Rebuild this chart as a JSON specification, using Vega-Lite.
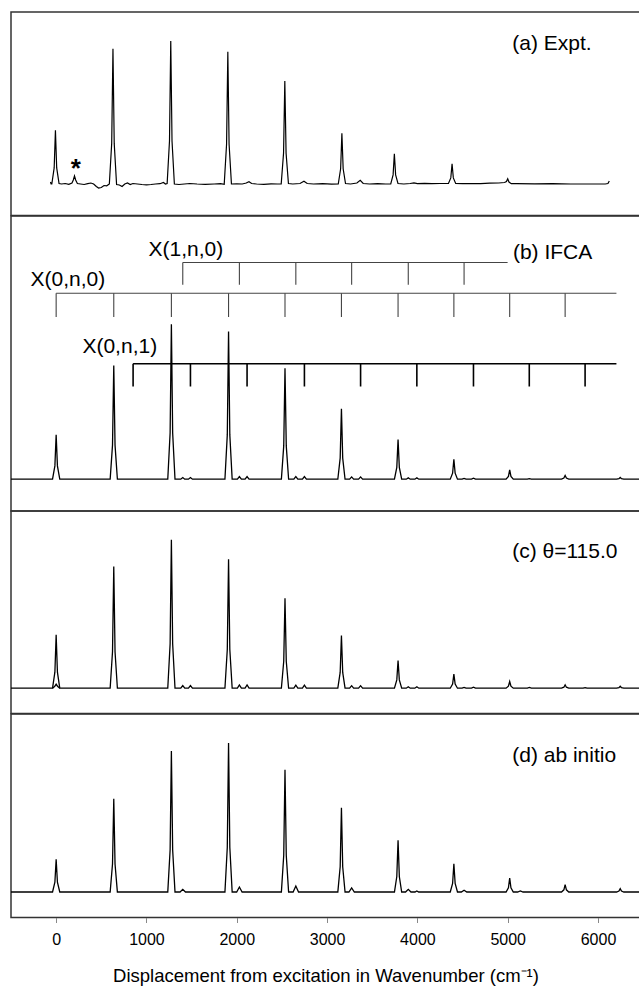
{
"$schema": "https://vega.github.io/schema/vega-lite/v6.json",
"padding": {"left": 10, "top": 11, "right": 0, "bottom": 0},
"background": "white",
"spacing": 0,
"bounds": "flush",
"config": {"view": {"stroke": "#333", "strokeWidth": 1.5}, "font": "Liberation Sans", "concat": {"spacing": 0}},
"resolve": {"scale": {"x": "independent", "y": "independent"}},
"datasets": {
"spec": [
{"p":"a","x":-63,"y":2},{"p":"a","x":-56,"y":0},{"p":"a","x":-48,"y":0},{"p":"a","x":-22,"y":16.1},{"p":"a","x":-8,"y":53.7},{"p":"a","x":6,"y":16.1},{"p":"a","x":32,"y":0.5},{"p":"a","x":60,"y":0},{"p":"a","x":100,"y":0.5},{"p":"a","x":140,"y":-0.3},{"p":"a","x":175,"y":1},{"p":"a","x":190,"y":4},{"p":"a","x":203,"y":8},{"p":"a","x":216,"y":4},{"p":"a","x":235,"y":0.5},{"p":"a","x":270,"y":0},{"p":"a","x":310,"y":-0.5},{"p":"a","x":350,"y":0.3},{"p":"a","x":385,"y":1},{"p":"a","x":415,"y":0},{"p":"a","x":445,"y":-2.5},{"p":"a","x":470,"y":-4},{"p":"a","x":500,"y":-3.5},{"p":"a","x":530,"y":-1.5},{"p":"a","x":560,"y":-1.8},{"p":"a","x":589,"y":0},{"p":"a","x":615,"y":40.6},{"p":"a","x":629,"y":135.3},{"p":"a","x":643,"y":40.6},{"p":"a","x":669,"y":-0.5},{"p":"a","x":700,"y":-1},{"p":"a","x":730,"y":-2.5},{"p":"a","x":760,"y":0},{"p":"a","x":790,"y":1},{"p":"a","x":820,"y":-0.5},{"p":"a","x":850,"y":0.5},{"p":"a","x":900,"y":0},{"p":"a","x":950,"y":-0.5},{"p":"a","x":1000,"y":-0.8},{"p":"a","x":1050,"y":-0.5},{"p":"a","x":1100,"y":0},{"p":"a","x":1150,"y":0.3},{"p":"a","x":1188,"y":1.5},{"p":"a","x":1210,"y":0},{"p":"a","x":1229,"y":0.5},{"p":"a","x":1255,"y":42.9},{"p":"a","x":1269,"y":143},{"p":"a","x":1283,"y":42.9},{"p":"a","x":1309,"y":0},{"p":"a","x":1360,"y":-0.5},{"p":"a","x":1420,"y":0},{"p":"a","x":1480,"y":0.5},{"p":"a","x":1560,"y":0},{"p":"a","x":1650,"y":-0.3},{"p":"a","x":1750,"y":0},{"p":"a","x":1820,"y":0.3},{"p":"a","x":1861,"y":-0.3},{"p":"a","x":1887,"y":39.7},{"p":"a","x":1901,"y":132.3},{"p":"a","x":1915,"y":39.7},{"p":"a","x":1941,"y":0},{"p":"a","x":2000,"y":0.2},{"p":"a","x":2060,"y":0},{"p":"a","x":2105,"y":1},{"p":"a","x":2135,"y":2.3},{"p":"a","x":2165,"y":0.5},{"p":"a","x":2220,"y":0},{"p":"a","x":2300,"y":-0.3},{"p":"a","x":2380,"y":0.2},{"p":"a","x":2450,"y":0},{"p":"a","x":2492,"y":0},{"p":"a","x":2518,"y":30.9},{"p":"a","x":2532,"y":103},{"p":"a","x":2546,"y":30.9},{"p":"a","x":2572,"y":0.5},{"p":"a","x":2620,"y":0},{"p":"a","x":2700,"y":0.5},{"p":"a","x":2744,"y":2.7},{"p":"a","x":2780,"y":0.5},{"p":"a","x":2850,"y":0},{"p":"a","x":2950,"y":0.3},{"p":"a","x":3050,"y":-0.2},{"p":"a","x":3124,"y":0},{"p":"a","x":3150,"y":15.2},{"p":"a","x":3164,"y":50.7},{"p":"a","x":3178,"y":15.2},{"p":"a","x":3204,"y":0.5},{"p":"a","x":3260,"y":0},{"p":"a","x":3330,"y":1},{"p":"a","x":3367,"y":3.7},{"p":"a","x":3400,"y":0.5},{"p":"a","x":3470,"y":0},{"p":"a","x":3560,"y":0.3},{"p":"a","x":3650,"y":0},{"p":"a","x":3705,"y":0},{"p":"a","x":3731,"y":9.1},{"p":"a","x":3745,"y":30.3},{"p":"a","x":3759,"y":9.1},{"p":"a","x":3785,"y":0.5},{"p":"a","x":3850,"y":0},{"p":"a","x":3920,"y":0.5},{"p":"a","x":3962,"y":1.2},{"p":"a","x":4000,"y":0.3},{"p":"a","x":4080,"y":0.6},{"p":"a","x":4160,"y":0.3},{"p":"a","x":4250,"y":0.5},{"p":"a","x":4344,"y":0.5},{"p":"a","x":4370,"y":6.1},{"p":"a","x":4384,"y":20.3},{"p":"a","x":4398,"y":6.1},{"p":"a","x":4424,"y":0.5},{"p":"a","x":4500,"y":0.3},{"p":"a","x":4600,"y":0.5},{"p":"a","x":4700,"y":0.3},{"p":"a","x":4800,"y":0.8},{"p":"a","x":4900,"y":1},{"p":"a","x":4965,"y":1.5},{"p":"a","x":4986,"y":2.5},{"p":"a","x":5000,"y":5.3},{"p":"a","x":5014,"y":2},{"p":"a","x":5040,"y":0.3},{"p":"a","x":5100,"y":0.3},{"p":"a","x":5300,"y":0.2},{"p":"a","x":5500,"y":0.3},{"p":"a","x":5700,"y":0},{"p":"a","x":5900,"y":0},{"p":"a","x":6080,"y":0},{"p":"a","x":6110,"y":0.5},{"p":"a","x":6125,"y":3},

{"p":"b","x":-500,"y":0},
{"p":"b","x":-40,"y":0},{"p":"b","x":-14,"y":13.3},{"p":"b","x":0,"y":44.4},{"p":"b","x":14,"y":13.3},{"p":"b","x":40,"y":0},
{"p":"b","x":598,"y":0},{"p":"b","x":624,"y":34.1},{"p":"b","x":638,"y":113.7},{"p":"b","x":652,"y":34.1},{"p":"b","x":678,"y":0},
{"p":"b","x":1236,"y":0},{"p":"b","x":1262,"y":46.5},{"p":"b","x":1276,"y":155},{"p":"b","x":1290,"y":46.5},{"p":"b","x":1316,"y":0},
{"p":"b","x":1380,"y":0},{"p":"b","x":1402,"y":1.7},{"p":"b","x":1424,"y":0},{"p":"b","x":1465,"y":0},{"p":"b","x":1487,"y":1.7},{"p":"b","x":1509,"y":0},
{"p":"b","x":1869,"y":0},{"p":"b","x":1895,"y":44.3},{"p":"b","x":1909,"y":147.7},{"p":"b","x":1923,"y":44.3},{"p":"b","x":1949,"y":0},
{"p":"b","x":2007,"y":0},{"p":"b","x":2029,"y":2.7},{"p":"b","x":2051,"y":0},{"p":"b","x":2092,"y":0},{"p":"b","x":2114,"y":2.7},{"p":"b","x":2136,"y":0},
{"p":"b","x":2494,"y":0},{"p":"b","x":2520,"y":33.3},{"p":"b","x":2534,"y":111},{"p":"b","x":2548,"y":33.3},{"p":"b","x":2574,"y":0},
{"p":"b","x":2632,"y":0},{"p":"b","x":2654,"y":2.7},{"p":"b","x":2676,"y":0},{"p":"b","x":2727,"y":0},{"p":"b","x":2749,"y":2.7},{"p":"b","x":2771,"y":0},
{"p":"b","x":3119,"y":0},{"p":"b","x":3145,"y":21.1},{"p":"b","x":3159,"y":70.4},{"p":"b","x":3173,"y":21.1},{"p":"b","x":3199,"y":0},
{"p":"b","x":3250,"y":0},{"p":"b","x":3272,"y":2.3},{"p":"b","x":3294,"y":0},{"p":"b","x":3349,"y":0},{"p":"b","x":3371,"y":2.3},{"p":"b","x":3393,"y":0},
{"p":"b","x":3746,"y":0},{"p":"b","x":3772,"y":11.9},{"p":"b","x":3786,"y":39.7},{"p":"b","x":3800,"y":11.9},{"p":"b","x":3826,"y":0},
{"p":"b","x":3877,"y":0},{"p":"b","x":3899,"y":1.3},{"p":"b","x":3921,"y":0},{"p":"b","x":3972,"y":0},{"p":"b","x":3994,"y":1.3},{"p":"b","x":4016,"y":0},
{"p":"b","x":4364,"y":0},{"p":"b","x":4390,"y":6},{"p":"b","x":4404,"y":20},{"p":"b","x":4418,"y":6},{"p":"b","x":4444,"y":0},
{"p":"b","x":4495,"y":0},{"p":"b","x":4517,"y":0.8},{"p":"b","x":4539,"y":0},{"p":"b","x":4599,"y":0},{"p":"b","x":4621,"y":1},{"p":"b","x":4643,"y":0},
{"p":"b","x":4982,"y":0},{"p":"b","x":5008,"y":2.8},{"p":"b","x":5022,"y":9.4},{"p":"b","x":5036,"y":2.8},{"p":"b","x":5062,"y":0},
{"p":"b","x":5217,"y":0},{"p":"b","x":5239,"y":0.5},{"p":"b","x":5261,"y":0},
{"p":"b","x":5596,"y":0},{"p":"b","x":5622,"y":1.1},{"p":"b","x":5636,"y":3.7},{"p":"b","x":5650,"y":1.1},{"p":"b","x":5676,"y":0},
{"p":"b","x":6206,"y":0},{"p":"b","x":6232,"y":0.5},{"p":"b","x":6246,"y":1.7},{"p":"b","x":6260,"y":0.5},{"p":"b","x":6286,"y":0},
{"p":"b","x":6465,"y":0},

{"p":"c","s":"main","x":-500,"y":0},
{"p":"c","s":"main","x":-40,"y":0},{"p":"c","s":"main","x":-14,"y":16},{"p":"c","s":"main","x":0,"y":53.4},{"p":"c","s":"main","x":14,"y":16},{"p":"c","s":"main","x":40,"y":0},
{"p":"c","s":"main","x":598,"y":0},{"p":"c","s":"main","x":624,"y":36.5},{"p":"c","s":"main","x":638,"y":121.7},{"p":"c","s":"main","x":652,"y":36.5},{"p":"c","s":"main","x":678,"y":0},
{"p":"c","s":"main","x":1236,"y":0},{"p":"c","s":"main","x":1262,"y":44.5},{"p":"c","s":"main","x":1276,"y":148.4},{"p":"c","s":"main","x":1290,"y":44.5},{"p":"c","s":"main","x":1316,"y":0},
{"p":"c","s":"main","x":1380,"y":0},{"p":"c","s":"main","x":1402,"y":2.7},{"p":"c","s":"main","x":1424,"y":0},{"p":"c","s":"main","x":1465,"y":0},{"p":"c","s":"main","x":1487,"y":2.7},{"p":"c","s":"main","x":1509,"y":0},
{"p":"c","s":"main","x":1869,"y":0},{"p":"c","s":"main","x":1895,"y":38.7},{"p":"c","s":"main","x":1909,"y":129},{"p":"c","s":"main","x":1923,"y":38.7},{"p":"c","s":"main","x":1949,"y":0},
{"p":"c","s":"main","x":2007,"y":0},{"p":"c","s":"main","x":2029,"y":3.3},{"p":"c","s":"main","x":2051,"y":0},{"p":"c","s":"main","x":2092,"y":0},{"p":"c","s":"main","x":2114,"y":3.3},{"p":"c","s":"main","x":2136,"y":0},
{"p":"c","s":"main","x":2494,"y":0},{"p":"c","s":"main","x":2520,"y":27},{"p":"c","s":"main","x":2534,"y":90},{"p":"c","s":"main","x":2548,"y":27},{"p":"c","s":"main","x":2574,"y":0},
{"p":"c","s":"main","x":2632,"y":0},{"p":"c","s":"main","x":2654,"y":3},{"p":"c","s":"main","x":2676,"y":0},{"p":"c","s":"main","x":2727,"y":0},{"p":"c","s":"main","x":2749,"y":3},{"p":"c","s":"main","x":2771,"y":0},
{"p":"c","s":"main","x":3119,"y":0},{"p":"c","s":"main","x":3145,"y":15.8},{"p":"c","s":"main","x":3159,"y":52.7},{"p":"c","s":"main","x":3173,"y":15.8},{"p":"c","s":"main","x":3199,"y":0},
{"p":"c","s":"main","x":3250,"y":0},{"p":"c","s":"main","x":3272,"y":2.5},{"p":"c","s":"main","x":3294,"y":0},{"p":"c","s":"main","x":3349,"y":0},{"p":"c","s":"main","x":3371,"y":2.5},{"p":"c","s":"main","x":3393,"y":0},
{"p":"c","s":"main","x":3746,"y":0},{"p":"c","s":"main","x":3772,"y":8.3},{"p":"c","s":"main","x":3786,"y":27.7},{"p":"c","s":"main","x":3800,"y":8.3},{"p":"c","s":"main","x":3826,"y":0},
{"p":"c","s":"main","x":3877,"y":0},{"p":"c","s":"main","x":3899,"y":1.5},{"p":"c","s":"main","x":3921,"y":0},{"p":"c","s":"main","x":3972,"y":0},{"p":"c","s":"main","x":3994,"y":1.5},{"p":"c","s":"main","x":4016,"y":0},
{"p":"c","s":"main","x":4364,"y":0},{"p":"c","s":"main","x":4390,"y":4.2},{"p":"c","s":"main","x":4404,"y":14},{"p":"c","s":"main","x":4418,"y":4.2},{"p":"c","s":"main","x":4444,"y":0},
{"p":"c","s":"main","x":4495,"y":0},{"p":"c","s":"main","x":4517,"y":0.8},{"p":"c","s":"main","x":4539,"y":0},{"p":"c","s":"main","x":4599,"y":0},{"p":"c","s":"main","x":4621,"y":1},{"p":"c","s":"main","x":4643,"y":0},
{"p":"c","s":"main","x":4982,"y":0},{"p":"c","s":"main","x":5008,"y":2},{"p":"c","s":"main","x":5022,"y":6.7},{"p":"c","s":"main","x":5036,"y":2},{"p":"c","s":"main","x":5062,"y":0},
{"p":"c","s":"main","x":5218,"y":0},{"p":"c","s":"main","x":5240,"y":0.8},{"p":"c","s":"main","x":5262,"y":0},
{"p":"c","s":"main","x":5596,"y":0},{"p":"c","s":"main","x":5622,"y":1},{"p":"c","s":"main","x":5636,"y":3.4},{"p":"c","s":"main","x":5650,"y":1},{"p":"c","s":"main","x":5676,"y":0},
{"p":"c","s":"main","x":5835,"y":0},{"p":"c","s":"main","x":5857,"y":0.6},{"p":"c","s":"main","x":5879,"y":0},
{"p":"c","s":"main","x":6206,"y":0},{"p":"c","s":"main","x":6232,"y":0.6},{"p":"c","s":"main","x":6246,"y":2},{"p":"c","s":"main","x":6260,"y":0.6},{"p":"c","s":"main","x":6286,"y":0},
{"p":"c","s":"main","x":6465,"y":0},
{"p":"c","s":"minor","x":-40,"y":0},{"p":"c","s":"minor","x":-15,"y":2},{"p":"c","s":"minor","x":0,"y":4},{"p":"c","s":"minor","x":15,"y":2},{"p":"c","s":"minor","x":40,"y":0},

{"p":"d","x":-500,"y":0},
{"p":"d","x":-40,"y":0},{"p":"d","x":-14,"y":9.8},{"p":"d","x":0,"y":32.7},{"p":"d","x":14,"y":9.8},{"p":"d","x":40,"y":0},
{"p":"d","x":598,"y":0},{"p":"d","x":624,"y":28},{"p":"d","x":638,"y":93.3},{"p":"d","x":652,"y":28},{"p":"d","x":678,"y":0},
{"p":"d","x":1236,"y":0},{"p":"d","x":1262,"y":42.3},{"p":"d","x":1276,"y":141},{"p":"d","x":1290,"y":42.3},{"p":"d","x":1316,"y":0},
{"p":"d","x":1372,"y":0},{"p":"d","x":1402,"y":2.7},{"p":"d","x":1432,"y":0},
{"p":"d","x":1869,"y":0},{"p":"d","x":1895,"y":44.7},{"p":"d","x":1909,"y":149},{"p":"d","x":1923,"y":44.7},{"p":"d","x":1949,"y":0},
{"p":"d","x":1999,"y":0},{"p":"d","x":2029,"y":5},{"p":"d","x":2059,"y":0},
{"p":"d","x":2494,"y":0},{"p":"d","x":2520,"y":36.7},{"p":"d","x":2534,"y":122.3},{"p":"d","x":2548,"y":36.7},{"p":"d","x":2574,"y":0},
{"p":"d","x":2624,"y":0},{"p":"d","x":2654,"y":6},{"p":"d","x":2684,"y":0},
{"p":"d","x":3119,"y":0},{"p":"d","x":3145,"y":25.3},{"p":"d","x":3159,"y":84.3},{"p":"d","x":3173,"y":25.3},{"p":"d","x":3199,"y":0},
{"p":"d","x":3242,"y":0},{"p":"d","x":3272,"y":4},{"p":"d","x":3302,"y":0},
{"p":"d","x":3746,"y":0},{"p":"d","x":3772,"y":15.5},{"p":"d","x":3786,"y":51.7},{"p":"d","x":3800,"y":15.5},{"p":"d","x":3826,"y":0},
{"p":"d","x":3869,"y":0},{"p":"d","x":3899,"y":2.7},{"p":"d","x":3929,"y":0},{"p":"d","x":3974,"y":0},{"p":"d","x":3994,"y":1},{"p":"d","x":4014,"y":0},
{"p":"d","x":4364,"y":0},{"p":"d","x":4390,"y":8.5},{"p":"d","x":4404,"y":28.3},{"p":"d","x":4418,"y":8.5},{"p":"d","x":4444,"y":0},
{"p":"d","x":4487,"y":0},{"p":"d","x":4517,"y":1.7},{"p":"d","x":4547,"y":0},
{"p":"d","x":4982,"y":0},{"p":"d","x":5008,"y":4.2},{"p":"d","x":5022,"y":14},{"p":"d","x":5036,"y":4.2},{"p":"d","x":5062,"y":0},
{"p":"d","x":5110,"y":0},{"p":"d","x":5140,"y":1},{"p":"d","x":5170,"y":0},
{"p":"d","x":5596,"y":0},{"p":"d","x":5622,"y":2.2},{"p":"d","x":5636,"y":7.3},{"p":"d","x":5650,"y":2.2},{"p":"d","x":5676,"y":0},
{"p":"d","x":6206,"y":0},{"p":"d","x":6232,"y":1},{"p":"d","x":6246,"y":3.3},{"p":"d","x":6260,"y":1},{"p":"d","x":6286,"y":0},
{"p":"d","x":6465,"y":0}
],
"sticks": [
{"g":"X(1,n,0)","x":1402,"x2":4999,"y":216.7,"y2":216.7},
{"g":"X(1,n,0)","x":1402,"x2":1402,"y":216.7,"y2":194.4},
{"g":"X(1,n,0)","x":2029,"x2":2029,"y":216.7,"y2":194.4},
{"g":"X(1,n,0)","x":2654,"x2":2654,"y":216.7,"y2":194.4},
{"g":"X(1,n,0)","x":3272,"x2":3272,"y":216.7,"y2":194.4},
{"g":"X(1,n,0)","x":3899,"x2":3899,"y":216.7,"y2":194.4},
{"g":"X(1,n,0)","x":4517,"x2":4517,"y":216.7,"y2":194.4},
{"g":"X(0,n,0)","x":0,"x2":6204,"y":186,"y2":186},
{"g":"X(0,n,0)","x":0,"x2":0,"y":186,"y2":162.2},
{"g":"X(0,n,0)","x":638,"x2":638,"y":186,"y2":162.2},
{"g":"X(0,n,0)","x":1276,"x2":1276,"y":186,"y2":162.2},
{"g":"X(0,n,0)","x":1909,"x2":1909,"y":186,"y2":162.2},
{"g":"X(0,n,0)","x":2534,"x2":2534,"y":186,"y2":162.2},
{"g":"X(0,n,0)","x":3159,"x2":3159,"y":186,"y2":162.2},
{"g":"X(0,n,0)","x":3786,"x2":3786,"y":186,"y2":162.2},
{"g":"X(0,n,0)","x":4404,"x2":4404,"y":186,"y2":162.2},
{"g":"X(0,n,0)","x":5022,"x2":5022,"y":186,"y2":162.2},
{"g":"X(0,n,0)","x":5636,"x2":5636,"y":186,"y2":162.2},
{"g":"X(0,n,1)","x":852,"x2":6204,"y":115.4,"y2":115.4},
{"g":"X(0,n,1)","x":852,"x2":852,"y":115.4,"y2":92.7},
{"g":"X(0,n,1)","x":1487,"x2":1487,"y":115.4,"y2":92.7},
{"g":"X(0,n,1)","x":2114,"x2":2114,"y":115.4,"y2":92.7},
{"g":"X(0,n,1)","x":2749,"x2":2749,"y":115.4,"y2":92.7},
{"g":"X(0,n,1)","x":3371,"x2":3371,"y":115.4,"y2":92.7},
{"g":"X(0,n,1)","x":3994,"x2":3994,"y":115.4,"y2":92.7},
{"g":"X(0,n,1)","x":4621,"x2":4621,"y":115.4,"y2":92.7},
{"g":"X(0,n,1)","x":5239,"x2":5239,"y":115.4,"y2":92.7},
{"g":"X(0,n,1)","x":5857,"x2":5857,"y":115.4,"y2":92.7}
],
"labels": [
{"p":"a","t":"(a) Expt.","x":5050,"y":139.7},
{"p":"a","t":"*","x":217,"y":7.5},
{"p":"b","t":"(b) IFCA","x":5058,"y":226},
{"p":"b","t":"X(1,n,0)","x":1022,"y":229.4},
{"p":"b","t":"X(0,n,0)","x":-284,"y":199.4},
{"p":"b","t":"X(0,n,1)","x":291,"y":132.7},
{"p":"c","t":"(c) θ=115.0","x":5050,"y":136.7},
{"p":"d","t":"(d) ab initio","x":5050,"y":136}
]
},
"vconcat": [
{
"width": 629, "height": 203.5,
"encoding": {
"x": {"field":"x","type":"quantitative","scale":{"domain":[-500,6465],"nice":false,"zero":false},"axis":null},
"y": {"field":"y","type":"quantitative","scale":{"domain":[-31.5,172],"nice":false,"zero":false},"axis":null}
},
"layer": [
{"data":{"name":"spec"},"transform":[{"filter":"datum.p == 'a'"}],"mark":{"type":"line","color":"black","strokeWidth":1.2,"clip":true}},
{"data":{"name":"labels"},"transform":[{"filter":"datum.p == 'a' && datum.t != '*'"}],"mark":{"type":"text","align":"left","baseline":"middle","fontSize":21,"color":"black","font":"Liberation Sans"},"encoding":{"text":{"field":"t"}}},
{"data":{"name":"labels"},"transform":[{"filter":"datum.t == '*'"}],"mark":{"type":"text","align":"center","baseline":"alphabetic","fontSize":26,"fontWeight":"bold","color":"black","font":"Liberation Sans"},"encoding":{"text":{"field":"t"}}}
]
},
{
"width": 629, "height": 295,
"encoding": {
"x": {"field":"x","type":"quantitative","scale":{"domain":[-500,6465],"nice":false,"zero":false},"axis":null},
"y": {"field":"y","type":"quantitative","scale":{"domain":[-31.8,263.2],"nice":false,"zero":false},"axis":null}
},
"layer": [
{"data":{"name":"spec"},"transform":[{"filter":"datum.p == 'b'"}],"mark":{"type":"line","color":"black","strokeWidth":1.3,"clip":true}},
{"data":{"name":"sticks"},"transform":[{"filter":"datum.g != 'X(0,n,1)'"}],"mark":{"type":"rule","color":"#444","strokeWidth":1.1},"encoding":{"x2":{"field":"x2"},"y2":{"field":"y2"}}},
{"data":{"name":"sticks"},"transform":[{"filter":"datum.g == 'X(0,n,1)'"}],"mark":{"type":"rule","color":"black","strokeWidth":1.6},"encoding":{"x2":{"field":"x2"},"y2":{"field":"y2"}}},
{"data":{"name":"labels"},"transform":[{"filter":"datum.p == 'b'"}],"mark":{"type":"text","align":"left","baseline":"middle","fontSize":21,"color":"black","font":"Liberation Sans"},"encoding":{"text":{"field":"t"}}}
]
},
{
"width": 629, "height": 202.5,
"encoding": {
"x": {"field":"x","type":"quantitative","scale":{"domain":[-500,6465],"nice":false,"zero":false},"axis":null},
"y": {"field":"y","type":"quantitative","scale":{"domain":[-25.3,177.2],"nice":false,"zero":false},"axis":null}
},
"layer": [
{"data":{"name":"spec"},"transform":[{"filter":"datum.p == 'c'"}],"mark":{"type":"line","color":"black","strokeWidth":1.3,"clip":true},"encoding":{"detail":{"field":"s"}}},
{"data":{"name":"labels"},"transform":[{"filter":"datum.p == 'c'"}],"mark":{"type":"text","align":"left","baseline":"middle","fontSize":21,"color":"black","font":"Liberation Sans"},"encoding":{"text":{"field":"t"}}}
]
},
{
"width": 629, "height": 203.5,
"encoding": {
"x": {"field":"x","type":"quantitative","scale":{"domain":[-500,6465],"nice":false,"zero":false},
"axis":{"values":[0,1000,2000,3000,4000,5000,6000],"format":"d","title":"Displacement from excitation in Wavenumber (cm⁻¹)","domain":false,"grid":false,"ticks":true,"tickSize":5,"tickColor":"#888","labelFontSize":16,"labelColor":"black","labelPadding":9,"labelFont":"Liberation Sans","titleFont":"Liberation Sans","titleFontSize":18.5,"titleFontWeight":"normal","titleColor":"black","titlePadding":19}},
"y": {"field":"y","type":"quantitative","scale":{"domain":[-25.5,178],"nice":false,"zero":false},"axis":null}
},
"layer": [
{"data":{"name":"spec"},"transform":[{"filter":"datum.p == 'd'"}],"mark":{"type":"line","color":"black","strokeWidth":1.3,"clip":true}},
{"data":{"name":"labels"},"transform":[{"filter":"datum.p == 'd'"}],"mark":{"type":"text","align":"left","baseline":"middle","fontSize":21,"color":"black","font":"Liberation Sans"},"encoding":{"text":{"field":"t"}}}
]
}
]
}
